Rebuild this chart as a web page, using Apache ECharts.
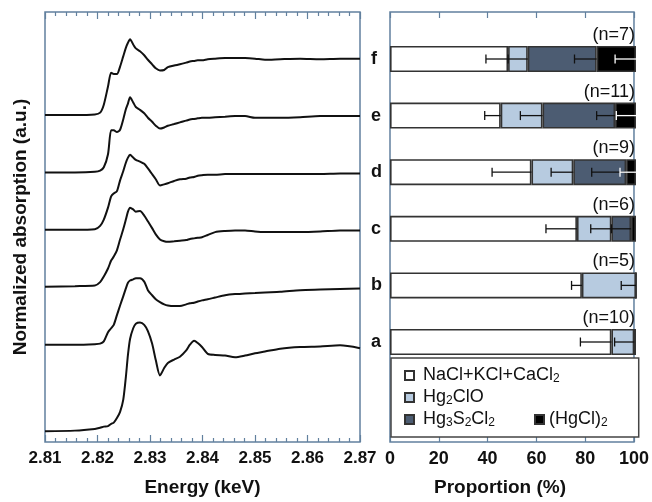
<!DOCTYPE html>
<html><head><meta charset="utf-8">
<script src="https://cdn.jsdelivr.net/npm/echarts@6/dist/echarts.min.js"></script>
<style>html,body{margin:0;padding:0;background:#fff}#c{width:652px;height:502px}</style>
</head><body><div id="c"></div>
<script>
// ---- Spectra (left panel) ----
const energy = [2.8100,2.8157,2.8195,2.8205,2.8212,2.8220,2.8226,2.8231,2.8237,2.8243,2.8249,2.8254,2.8258,2.8262,2.8268,2.8273,2.8281,2.8289,2.8296,2.8304,2.8311,2.8319,2.8327,2.8334,2.8346,2.8357,2.8369,2.8376,2.8384,2.8391,2.8399,2.8410,2.8424,2.8443,2.8462,2.8481,2.8500,2.8519,2.8548,2.8586,2.8624,2.8662,2.8700];
const specA = [0,0.01,0.04,0.06,0.08,0.09,0.13,0.15,0.23,0.34,0.55,0.95,1.34,1.62,1.81,1.89,1.91,1.87,1.76,1.54,1.25,0.98,1.11,1.20,1.26,1.31,1.42,1.52,1.59,1.55,1.48,1.36,1.34,1.33,1.30,1.33,1.37,1.40,1.45,1.48,1.49,1.51,1.46];
const specB = [0,0,0.01,0.02,0.06,0.22,0.29,0.35,0.52,0.69,0.85,0.99,1.09,1.13,1.15,1.17,1.17,1.11,0.96,0.87,0.80,0.75,0.71,0.69,0.68,0.68,0.71,0.73,0.74,0.76,0.78,0.80,0.83,0.87,0.89,0.90,0.91,0.92,0.93,0.96,0.97,0.98,0.99];
const specC = [0,0.01,0.02,0.08,0.18,0.32,0.46,0.53,0.64,0.83,1.01,1.18,1.32,1.39,1.36,1.32,1.33,1.25,1.15,1.03,0.92,0.83,0.80,0.79,0.80,0.81,0.82,0.84,0.85,0.86,0.87,0.91,0.96,0.98,0.99,0.99,0.97,0.96,0.96,0.96,0.97,0.99,0.99];
const specD = [0,0,0.01,0.07,0.18,0.39,0.59,0.64,0.68,0.87,1.03,1.18,1.27,1.32,1.27,1.23,1.20,1.16,1.08,0.98,0.89,0.78,0.80,0.82,0.86,0.89,0.90,0.92,0.93,0.95,0.96,0.97,0.97,0.98,0.98,0.98,0.98,0.98,0.98,0.98,0.98,0.99,0.99];
const specE = [0,0,0.01,0.03,0.09,0.32,0.74,0.74,0.71,0.75,0.93,1.11,1.21,1.32,1.23,1.15,1.10,1.04,0.96,0.89,0.82,0.77,0.79,0.82,0.85,0.88,0.91,0.93,0.94,0.95,0.96,0.96,0.97,0.98,0.99,0.99,0.96,0.96,0.96,0.97,0.99,0.99,0.99];
const specF = [0,0,0.01,0.04,0.18,0.50,0.74,0.72,0.72,0.85,1.03,1.18,1.27,1.33,1.24,1.17,1.12,1.05,0.97,0.89,0.82,0.78,0.79,0.84,0.87,0.89,0.92,0.94,0.95,0.96,0.96,0.98,0.99,1.00,1.00,1.00,0.99,0.97,0.98,0.99,0.98,0.99,0.99];
const specOffsets = [0.19, 1.71, 2.73, 3.73, 4.74, 5.75];
const spectra = [specA, specB, specC, specD, specE, specF];

// ---- Proportions (right panel) ----
const samples = ['a','b','c','d','e','f'];
const phaseNames = ['NaCl+KCl+CaCl2','Hg2ClO','Hg3S2Cl2','(HgCl)2'];
const nacl     = [90, 78, 76, 57.5, 45, 48];
const hg2clo   = [9.3, 22, 14, 17, 17, 8];
const hg3s2cl2 = [0, 0, 8, 21.5, 29.5, 28];
const hgcl2    = [0.7, 0, 2, 4, 8.5, 16];
const naclErr     = [12.6, 4.2, 12.6, 16, 6.5, 9];
const hg2cloErr   = [8, 6, 8.4, 9, 9, 8];
const hg3s2cl2Err = [0, 0, 8, 14, 7.5, 9];
const hgcl2Err    = [0, 0, 0, 6.5, 8, 8.5];
const nCounts = [10, 5, 6, 9, 11, 7];

const FONT = "'Liberation Sans', Arial, Helvetica, sans-serif";
const FRAME = '#62809e';
const phaseColors = ['#ffffff', '#b7cbe0', '#4c5c72', '#000000'];
const phaseVals = [nacl, hg2clo, hg3s2cl2, hgcl2];
const phaseErrs = [naclErr, hg2cloErr, hg3s2cl2Err, hgcl2Err];

const chart = echarts.init(document.getElementById('c'), null, {renderer: 'canvas'});

const specSeries = spectra.map((s, k) => ({
  type: 'line', xAxisIndex: 0, yAxisIndex: 0, showSymbol: false, smooth: 0.25,
  lineStyle: {color: '#111', width: 2}, silent: true,
  data: energy.map((e, i) => [e, s[i] + specOffsets[k]])
}));

const barSeries = phaseNames.map((nm, s) => ({
  name: nm, type: 'bar', stack: 'tot', xAxisIndex: 4, yAxisIndex: 2, barWidth: 26,
  itemStyle: {color: phaseColors[s], borderColor: '#333', borderWidth: 1.6},
  data: phaseVals[s]
}));

const errData = [];
samples.forEach((_, i) => {
  let cum = 0;
  phaseVals.forEach((arr, s) => {
    cum += arr[i];
    if (phaseErrs[s][i] > 0) errData.push([cum, i, phaseErrs[s][i], s === 3 ? 1 : 0]);
  });
});

function renderErr(params, api) {
  const end = api.value(0), row = api.value(1), err = api.value(2), white = api.value(3);
  const p1 = api.coord([end - err, row]);
  const p2 = api.coord([end, row]);
  const col = white ? '#ffffff' : '#111111';
  return {type: 'group', children: [
    {type: 'line', shape: {x1: p1[0], y1: p1[1], x2: p2[0], y2: p2[1]}, style: {stroke: col, lineWidth: 1.3}},
    {type: 'line', shape: {x1: p1[0], y1: p1[1] - 4.5, x2: p1[0], y2: p1[1] + 4.5}, style: {stroke: col, lineWidth: 1.3}}
  ]};
}

function renderN(params, api) {
  const p = api.coord([api.value(0), api.value(1)]);
  return {type: 'text', x: p[0] - 1, y: p[1] - 24,
    style: {text: '(n=' + api.value(2) + ')', fill: '#111', font: '18px ' + FONT, align: 'right', verticalAlign: 'middle'}};
}

const legendRich = {
  s: {fontSize: 12, lineHeight: 11, padding: [7, 0, 0, 0], fontFamily: FONT, color: '#111'}
};
function legendFmt(name) {
  return name.replace(/(\d)/g, '{s|$1}');
}

const option = {
  animation: false,
  backgroundColor: '#fff',
  textStyle: {fontFamily: FONT},
  grid: [
    {left: 45, top: 12, width: 315, height: 431, show: true, borderColor: FRAME, borderWidth: 1.5},
    {left: 390, top: 12, width: 246, height: 431, show: true, borderColor: FRAME, borderWidth: 1.5},
    {left: 390, top: 30.7, width: 246, height: 339.6}
  ],
  xAxis: [
    {gridIndex: 0, type: 'value', min: 2.81, max: 2.87, interval: 0.01, position: 'bottom',
     axisLine: {show: false}, splitLine: {show: false},
     axisTick: {inside: true, length: 7, lineStyle: {color: FRAME, width: 1.2}},
     minorTick: {show: true, splitNumber: 5, length: 4, lineStyle: {color: FRAME, width: 1.2}},
     axisLabel: {margin: 8, fontSize: 17, fontWeight: 'bold', color: '#111', fontFamily: FONT, formatter: v => v.toFixed(2)},
     name: 'Energy (keV)', nameLocation: 'middle', nameGap: 36,
     nameTextStyle: {fontSize: 19, fontWeight: 'bold', color: '#111', fontFamily: FONT}},
    {gridIndex: 0, type: 'value', min: 2.81, max: 2.87, interval: 0.01, position: 'top',
     axisLine: {show: false}, splitLine: {show: false}, axisLabel: {show: false},
     axisTick: {inside: true, length: 7, lineStyle: {color: FRAME, width: 1.2}},
     minorTick: {show: true, splitNumber: 5, length: 4, lineStyle: {color: FRAME, width: 1.2}}},
    {gridIndex: 1, type: 'value', min: 0, max: 100, interval: 20, position: 'bottom',
     axisLine: {show: false}, splitLine: {show: false},
     axisTick: {inside: true, length: 6, lineStyle: {color: FRAME, width: 1.2}},
     axisLabel: {margin: 8, fontSize: 18, fontWeight: 'bold', color: '#111', fontFamily: FONT},
     name: 'Proportion (%)', nameLocation: 'middle', nameGap: 36,
     nameTextStyle: {fontSize: 19, fontWeight: 'bold', color: '#111', fontFamily: FONT, padding: [0, 24, 0, 0]}},
    {gridIndex: 1, type: 'value', min: 0, max: 100, interval: 20, position: 'top',
     axisLine: {show: false}, splitLine: {show: false}, axisLabel: {show: false},
     axisTick: {inside: true, length: 6, lineStyle: {color: FRAME, width: 1.2}}},
    {gridIndex: 2, type: 'value', min: 0, max: 100, show: false}
  ],
  yAxis: [
    {gridIndex: 0, type: 'value', min: 0, max: 7.56,
     axisLine: {show: false}, axisTick: {show: false}, axisLabel: {show: false}, splitLine: {show: false},
     name: 'Normalized absorption (a.u.)', nameLocation: 'middle', nameGap: 15,
     nameTextStyle: {fontSize: 19, fontWeight: 'bold', color: '#111', fontFamily: FONT}},
    {gridIndex: 1, type: 'value', min: 0, max: 1, show: false},
    {gridIndex: 2, type: 'category', data: samples,
     axisLine: {show: false}, axisTick: {show: false}, splitLine: {show: false},
     axisLabel: {align: 'left', margin: 19, fontSize: 18, fontWeight: 'bold', color: '#111', fontFamily: FONT}}
  ],
  legend: [
    {data: phaseNames.slice(0, 3), orient: 'vertical', left: 391, top: 358,
     itemWidth: 9, itemHeight: 9, itemGap: 3, icon: 'rect',
     padding: [8, 79, 8, 13], borderColor: '#444', borderWidth: 1.5, backgroundColor: '#fff',
     formatter: legendFmt,
     textStyle: {fontSize: 18, lineHeight: 18, color: '#111', fontFamily: FONT, padding: [0, 0, 0, 4], rich: legendRich}},
    {data: [phaseNames[3]], orient: 'vertical', left: 534, top: 410,
     itemWidth: 9, itemHeight: 9, icon: 'rect', padding: 0,
     formatter: legendFmt,
     textStyle: {fontSize: 18, lineHeight: 18, color: '#111', fontFamily: FONT, rich: legendRich}}
  ],
  series: [
    ...specSeries,
    ...barSeries,
    {type: 'custom', xAxisIndex: 4, yAxisIndex: 2, renderItem: renderErr, data: errData, z: 5, silent: true},
    {type: 'custom', xAxisIndex: 4, yAxisIndex: 2, renderItem: renderN,
     data: samples.map((_, i) => [100, i, nCounts[i]]), z: 5, silent: true}
  ]
};
chart.setOption(option);
</script>
</body></html>
